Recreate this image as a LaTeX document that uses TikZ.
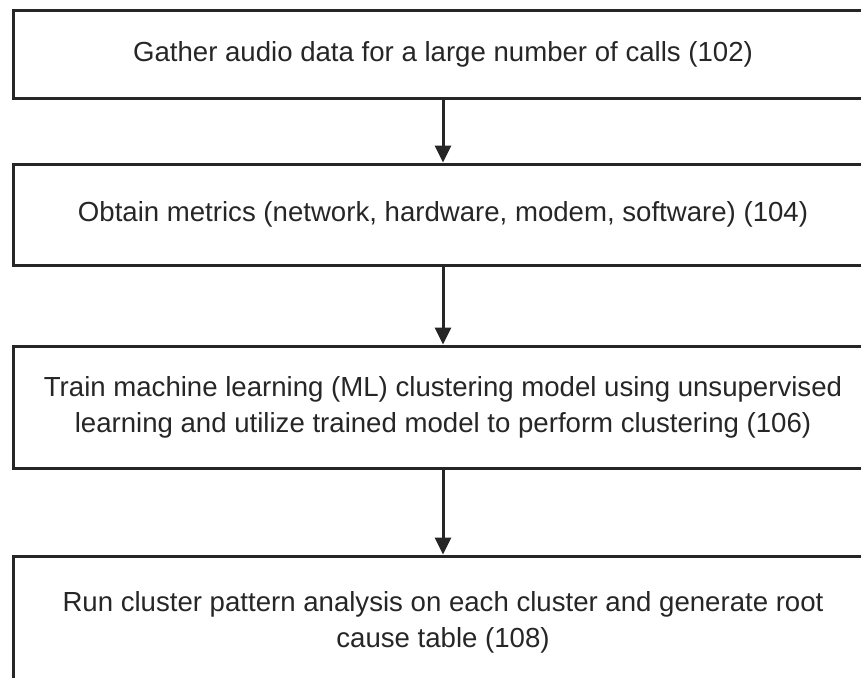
\documentclass[tikz,border=0pt]{standalone}
\usepackage{fontspec}
\setmainfont{Liberation Sans}
\usetikzlibrary{arrows.meta}
\begin{document}
\begin{tikzpicture}[x=1pt,y=-1pt,
  stepbox/.style={draw=black!85,line width=3pt,rectangle,align=center,inner sep=0pt,
    font=\fontsize{27.6}{36}\selectfont,text=black!85},
  flow/.style={draw=black!85,line width=3pt,-{Triangle[length=17pt,width=16pt]}}]
\useasboundingbox (0,0) rectangle (861,677);
\clip (0,0) rectangle (861,677);
\node[stepbox,minimum width=860pt,minimum height=87pt] (b1) at (443,54.5)
  {Gather audio data for a large number of calls (102)};
\node[stepbox,minimum width=860pt,minimum height=101pt] (b2) at (443,214.5)
  {Obtain metrics (network, hardware, modem, software) (104)};
\node[stepbox,minimum width=860pt,minimum height=122pt] (b3) at (443,407)
  {Train machine learning (ML) clustering model using unsupervised\\learning and utilize trained model to perform clustering (106)};
\node[stepbox,minimum width=860pt,minimum height=132pt] (b4) at (443,622)
  {Run cluster pattern analysis on each cluster and generate root\\cause table (108)};
\draw[flow] (b1.south) -- (b2.north);
\draw[flow] (b2.south) -- (b3.north);
\draw[flow] (b3.south) -- (b4.north);
\end{tikzpicture}
\end{document}
